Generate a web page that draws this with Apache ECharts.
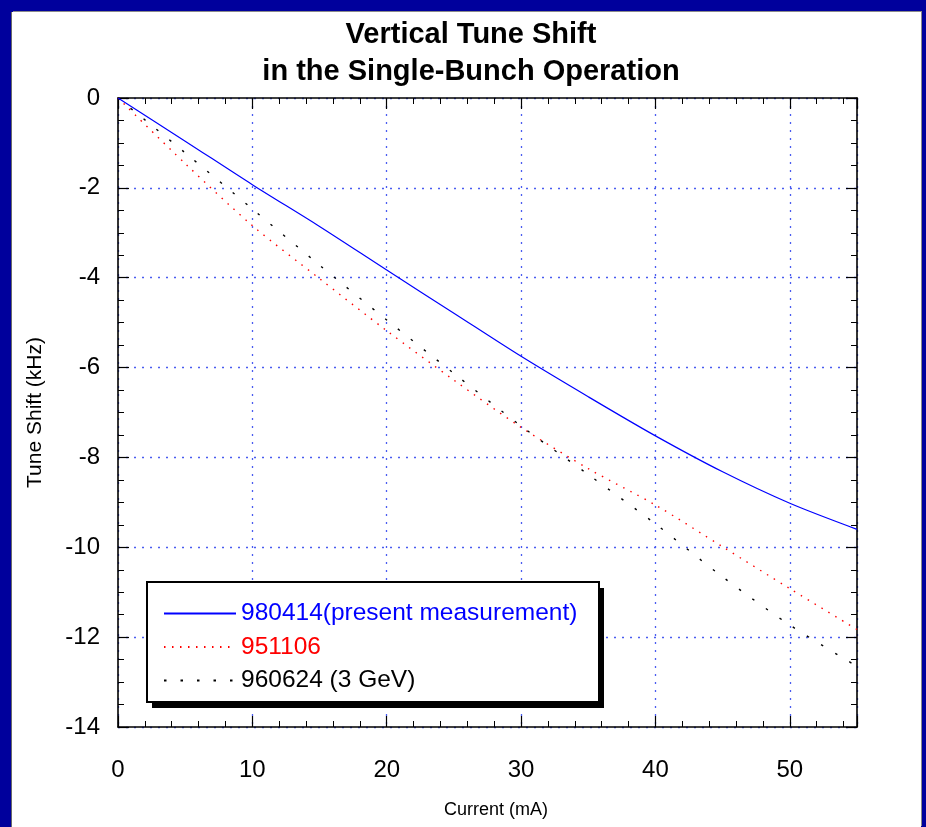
<!DOCTYPE html>
<html>
<head>
<meta charset="utf-8">
<script src="https://cdn.jsdelivr.net/npm/echarts@6/dist/echarts.min.js"></script>
<style>
  html, body { margin: 0; padding: 0; }
  body { width: 926px; height: 827px; background: #00009C; position: relative; overflow: hidden; }
  #paper { position: absolute; left: 12px; top: 12px; width: 909px; height: 815px; background: #ffffff;
           box-shadow: 1px -1px 0 #8a8a8a, -1px 0 0 #6a6a6a; }
  #chart { position: absolute; left: 0; top: 0; width: 926px; height: 827px; }
</style>
</head>
<body>
<div id="paper"></div>
<div id="chart"></div>
<script>
// Beam current (mA) at which each tune shift is sampled
const currents = [0, 5, 10, 15, 20, 25, 30, 35, 40, 45, 50, 55];

// Vertical tune shift (kHz) for each measurement run
const run980414 = [0, -0.96, -1.93, -2.86, -3.83, -4.79, -5.75, -6.65, -7.52, -8.32, -9.02, -9.60];
const run951106 = [0, -1.46, -2.84, -4.02, -5.18, -6.28, -7.33, -8.25, -9.06, -9.99, -10.92, -11.83];
const run960624 = [0, -1.22, -2.47, -3.72, -4.94, -6.13, -7.30, -8.38, -9.48, -10.66, -11.73, -12.65];

const seriesNames = ['980414(present measurement)', '951106', '960624 (3 GeV)'];
const seriesColors = ['#0000ff', '#ff0000', '#000000'];

const FONT = '"Liberation Sans", Arial, sans-serif';

function pairs(xs, ys) { return xs.map((x, i) => [x, ys[i]]); }

const gridLine = { show: true, lineStyle: { color: '#4a5cf0', width: 1.3, type: [2, 6] } };

function frameAxis(extra) {
  return Object.assign({
    axisLine: { show: true, onZero: false, lineStyle: { color: '#000', width: 1.6 } },
    axisTick: { show: true, inside: true, length: 11, lineStyle: { color: '#000', width: 1.2 } },
  }, extra);
}

const xMinor = { show: true, splitNumber: 5, length: 6, lineStyle: { color: '#000', width: 1 } };
const yMinor = { show: true, splitNumber: 4, length: 6, lineStyle: { color: '#000', width: 1 } };

const chart = echarts.init(document.getElementById('chart'), null, { renderer: 'canvas' });

chart.setOption({
  animation: false,
  backgroundColor: 'transparent',
  textStyle: { fontFamily: FONT },
  title: {
    text: 'Vertical Tune Shift\nin the Single-Bunch Operation',
    left: 466, textAlign: 'center', top: 11,
    textStyle: { fontFamily: FONT, fontWeight: 'bold', fontSize: 29, lineHeight: 37, color: '#000' }
  },
  grid: { left: 118, right: 69, top: 98, bottom: 100, containLabel: false },
  xAxis: [
    frameAxis({
      type: 'value', position: 'bottom', min: 0, max: 55, interval: 10,
      name: 'Current (mA)', nameLocation: 'middle', nameGap: 74,
      nameTextStyle: { fontFamily: FONT, fontSize: 18, color: '#000', padding: [0, 0, 0, 17] },
      axisLabel: { show: true, margin: 31, fontFamily: FONT, fontSize: 24, color: '#000',
                   showMaxLabel: false },
      minorTick: xMinor,
      splitLine: gridLine
    }),
    frameAxis({
      type: 'value', position: 'top', min: 0, max: 55, interval: 10,
      axisLabel: { show: false }, minorTick: xMinor, splitLine: { show: false }
    })
  ],
  yAxis: [
    frameAxis({
      type: 'value', position: 'left', min: -14, max: 0, interval: 2,
      name: 'Tune Shift (kHz)', nameLocation: 'middle', nameGap: 72, nameRotate: 90,
      nameTextStyle: { fontFamily: FONT, fontSize: 21, color: '#000' },
      axisLabel: { show: true, margin: 18, fontFamily: FONT, fontSize: 24, color: '#000' },
      minorTick: yMinor,
      splitLine: gridLine
    }),
    frameAxis({
      type: 'value', position: 'right', min: -14, max: 0, interval: 2,
      axisLabel: { show: false }, minorTick: yMinor, splitLine: { show: false }
    })
  ],
  // Legend frame with a solid drop shadow
  graphic: [
    { type: 'rect', z: 10, shape: { x: 152, y: 588, width: 452, height: 120 },
      style: { fill: '#000' } },
    { type: 'rect', z: 11, shape: { x: 147, y: 582, width: 452, height: 120 },
      style: { fill: '#fff', stroke: '#000', lineWidth: 2 } }
  ],
  legend: {
    orient: 'vertical', left: 163, top: 601, z: 20,
    backgroundColor: 'transparent', borderWidth: 0, padding: 0,
    itemWidth: 72, itemHeight: 14, itemGap: 8.5,
    itemStyle: { opacity: 0 },
    textStyle: { fontFamily: FONT, fontSize: 24.5, lineHeight: 24 },
    data: seriesNames.map((n, i) => ({ name: n, textStyle: { color: seriesColors[i] } }))
  },
  series: [
    { name: seriesNames[0], type: 'line', smooth: 0.3, symbol: 'none',
      data: pairs(currents, run980414), z: 4,
      lineStyle: { color: seriesColors[0], width: 1.2, type: 'solid' },
      itemStyle: { color: seriesColors[0] } },
    { name: seriesNames[1], type: 'line', smooth: 0.3, symbol: 'none',
      data: pairs(currents, run951106), z: 3,
      lineStyle: { color: seriesColors[1], width: 1.4, type: [1.5, 6.5] },
      itemStyle: { color: seriesColors[1] } },
    { name: seriesNames[2], type: 'line', smooth: 0.3, symbol: 'none',
      data: pairs(currents, run960624), z: 3,
      lineStyle: { color: seriesColors[2], width: 1.4, type: [2.5, 14] },
      itemStyle: { color: seriesColors[2] } }
  ]
});
</script>
</body>
</html>
